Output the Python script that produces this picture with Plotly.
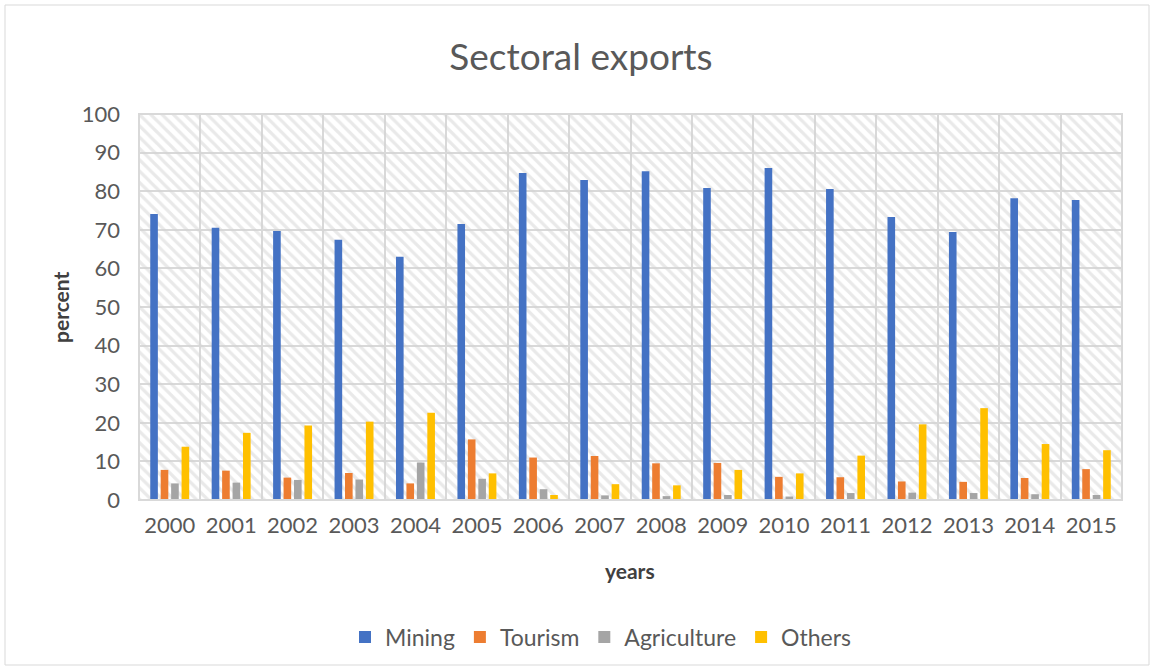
import plotly.graph_objects as go

years = [str(y) for y in range(2000, 2016)]
mining = [74.1, 70.5, 69.7, 67.4, 63.0, 71.5, 84.7, 82.9, 85.2, 80.8, 86.0, 80.6, 73.3, 69.4, 78.2, 77.7]
tourism = [7.8, 7.6, 5.8, 7.0, 4.3, 15.7, 11.0, 11.4, 9.5, 9.6, 6.0, 5.9, 4.8, 4.7, 5.7, 8.0]
agriculture = [4.3, 4.5, 5.2, 5.3, 9.7, 5.5, 2.8, 1.2, 1.0, 1.3, 0.9, 1.8, 1.9, 1.8, 1.5, 1.3]
others = [13.8, 17.4, 19.3, 20.3, 22.6, 6.9, 1.3, 4.1, 3.8, 7.8, 6.9, 11.5, 19.6, 23.8, 14.5, 12.9]

series = [("Mining", mining, "#4472C4"), ("Tourism", tourism, "#ED7D31"),
          ("Agriculture", agriculture, "#A5A5A5"), ("Others", others, "#FFC000")]

FONT = "Lato"
GRAY = "#595959"

fig = go.Figure()

# hatched plot-area background on base axes
fig.add_trace(go.Bar(x=[0.5], y=[100], width=[1], xaxis="x", yaxis="y",
                     marker=dict(color="rgba(255,255,255,0)", line=dict(width=0),
                                 pattern=dict(shape="\\", fgcolor="#d4d4d4", bgcolor="rgba(255,255,255,0)",
                                              size=8, solidity=0.4)),
                     showlegend=False, hoverinfo="skip"))

for name, vals, col in series:
    fig.add_trace(go.Bar(x=years, y=vals, name=name, marker_color=col,
                         marker_line_width=0, xaxis="x2", yaxis="y2"))

fig.update_layout(
    width=1152, height=670,
    margin=dict(l=139, r=30, t=114, b=170),
    paper_bgcolor="white", plot_bgcolor="white",
    font=dict(family=FONT, color=GRAY, size=21),
    title=dict(text="Sectoral exports", x=581 / 1152, xanchor="center", y=1 - 57 / 670, yanchor="middle",
               font=dict(size=37, color=GRAY, family=FONT)),
    barmode="group", bargap=0.32, bargroupgap=0.27,
    xaxis=dict(range=[0, 1], showgrid=False, showticklabels=False, zeroline=False, fixedrange=True),
    yaxis=dict(range=[0, 100], dtick=10, showgrid=True, gridcolor="#d9d9d9", gridwidth=2,
               zeroline=False, tickfont=dict(size=22, color=GRAY), ticks="", ticklabelstandoff=18),
    xaxis2=dict(type="category", overlaying="x", anchor="y2", side="bottom",
                showgrid=True, gridcolor="#d9d9d9", gridwidth=2, tickson="boundaries",
                ticks="", tickfont=dict(size=22, color=GRAY), showline=False, ticklabelstandoff=10),
    yaxis2=dict(range=[0, 100], overlaying="y", showgrid=False, showticklabels=False, zeroline=False),
    legend=dict(orientation="h", x=0.5 - 30 / 983, xanchor="center", y=(500 - 637) / 386, yanchor="middle",
                font=dict(size=23, color=GRAY), itemwidth=30, traceorder="normal"),
    showlegend=True,
)

fig.add_annotation(text="<b>years</b>", xref="paper", yref="paper", x=(630 - 139) / 983, y=(500 - 570) / 386,
                   showarrow=False, font=dict(size=21, color="#404040"), yanchor="middle")
fig.add_annotation(text="<b>percent</b>", xref="paper", yref="paper", x=(60 - 139) / 983, y=(500 - 307) / 386,
                   textangle=-90, showarrow=False, font=dict(size=21, color="#404040"), xanchor="center")

# plot-area border
fig.add_shape(type="rect", xref="paper", yref="paper", x0=0, x1=1, y0=0, y1=1,
              line=dict(color="#d9d9d9", width=2), layer="above")
# chart border
fig.add_shape(type="rect", xref="paper", yref="paper",
              x0=(5 - 139) / 983, x1=(1149 - 139) / 983, y0=(500 - 665) / 386, y1=(500 - 5) / 386,
              line=dict(color="#d9d9d9", width=1))

fig.write_html("out.html")
